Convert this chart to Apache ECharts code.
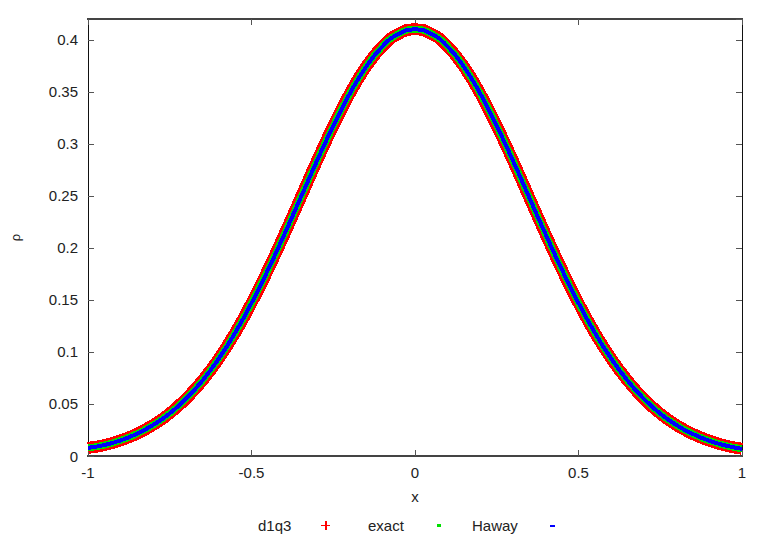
<!DOCTYPE html>
<html>
<head>
<meta charset="utf-8">
<script src="https://cdn.jsdelivr.net/npm/echarts@6/dist/echarts.min.js"></script>
<style>
  html, body { margin: 0; padding: 0; background: #fff; }
  #chart { width: 771px; height: 540px; }
  /* gnuplot png output is not antialiased: keep the curve colours pure */
  #chart path { shape-rendering: crispEdges; }
</style>
</head>
<body>
<div id="chart"></div>
<script>
// x positions (step 0.05 from -1 to 1)
const xs = [
  -1, -0.95, -0.9, -0.85, -0.8, -0.75, -0.7, -0.65, -0.6, -0.55,
  -0.5, -0.45, -0.4, -0.35, -0.3, -0.25, -0.2, -0.15, -0.1, -0.05,
  0, 0.05, 0.1, 0.15, 0.2, 0.25, 0.3, 0.35, 0.4, 0.45,
  0.5, 0.55, 0.6, 0.65, 0.7, 0.75, 0.8, 0.85, 0.9, 0.95, 1
];
// density (the three curves lie on top of each other)
const rhoD1q3 = [
  0.0078, 0.0105, 0.0150, 0.0214, 0.0300, 0.0410, 0.0551, 0.0725, 0.0936, 0.1184,
  0.1470, 0.1786, 0.2127, 0.2480, 0.2835, 0.3172, 0.3480, 0.3739, 0.3935, 0.4058,
  0.4100, 0.4058, 0.3935, 0.3739, 0.3480, 0.3172, 0.2835, 0.2480, 0.2127, 0.1786,
  0.1470, 0.1184, 0.0936, 0.0725, 0.0549, 0.0407, 0.0296, 0.0211, 0.0147, 0.0100, 0.0069
];
const rhoExact = rhoD1q3.slice();
const rhoHaway = rhoD1q3.slice();

const yTicks = [0, 0.05, 0.1, 0.15, 0.2, 0.25, 0.3, 0.35, 0.4];

const pair = (ys) => xs.map((x, i) => [x, ys[i]]);

const chart = echarts.init(document.getElementById("chart"), null, { renderer: "svg" });

const labelFont = { fontFamily: "Liberation Sans, Arial, sans-serif", fontSize: 15, color: "#222" };

// one small legend per series so the key looks like gnuplot's: text, then symbol
function key(name, left, gap, icon, w, h) {
  return {
    data: [{ name: name, icon: icon }],
    left: left,
    top: 518,
    padding: 0,
    align: "right",
    itemWidth: w,
    itemHeight: h,
    selectedMode: false,
    textStyle: Object.assign({}, labelFont, { padding: [0, gap, 0, 0] }),
  };
}

const option = {
  animation: false,
  backgroundColor: "#fff",
  grid: { left: 88, right: 29, top: 19, bottom: 84 },
  legend: [
    key("d1q3", 258, 25, "path://M4,0H6V4H10V6H6V10H4V6H0V4H4Z", 9, 9),
    key("exact", 368, 28, "circle", 4, 4),
    key("Haway", 472, 27, "rect", 5, 2),
  ],
  xAxis: [
    {
      type: "value",
      min: -1,
      max: 1,
      interval: 0.5,
      position: "bottom",
      name: "x",
      nameLocation: "middle",
      nameGap: 33,
      nameTextStyle: labelFont,
      axisLine: { show: true, onZero: false, lineStyle: { color: "#444", width: 2 } },
      axisTick: { inside: true, length: 6, lineStyle: { color: "#555" } },
      axisLabel: Object.assign({ margin: 9 }, labelFont),
      splitLine: { show: false },
    },
    {
      type: "value",
      min: -1,
      max: 1,
      interval: 0.5,
      position: "top",
      axisLine: { show: true, onZero: false, lineStyle: { color: "#444", width: 2 } },
      axisTick: { inside: true, length: 6, lineStyle: { color: "#555" } },
      axisLabel: { show: false },
      splitLine: { show: false },
    },
  ],
  yAxis: [
    {
      type: "value",
      min: 0,
      max: 0.42,
      interval: 0.05,
      position: "left",
      name: "ρ",
      nameLocation: "middle",
      nameGap: 66,
      nameTextStyle: Object.assign({}, labelFont, { fontSize: 13 }),
      axisLine: { show: true, onZero: false, lineStyle: { color: "#111", width: 1 } },
      axisTick: { inside: true, length: 6, lineStyle: { color: "#555" } },
      axisLabel: Object.assign({
        margin: 10,
        showMaxLabel: false,
        formatter: (v) => (yTicks.some((t) => Math.abs(t - v) < 1e-9) ? String(+v.toFixed(2)) : ""),
      }, labelFont),
      splitLine: { show: false },
    },
    {
      type: "value",
      min: 0,
      max: 0.42,
      interval: 0.05,
      position: "right",
      axisLine: { show: true, onZero: false, lineStyle: { color: "#111", width: 1 } },
      axisTick: { inside: true, length: 6, lineStyle: { color: "#555" } },
      axisLabel: { show: false },
      splitLine: { show: false },
    },
  ],
  series: [
    {
      name: "d1q3",
      type: "line",
      color: "#ff0000",
      data: pair(rhoD1q3),
      smooth: true,
      showSymbol: false,
      lineStyle: { color: "#ff0000", width: 12 },
      z: 1,
    },
    {
      name: "exact",
      type: "line",
      color: "#00e000",
      data: pair(rhoExact),
      smooth: true,
      showSymbol: false,
      lineStyle: { color: "#00e000", width: 7 },
      z: 2,
    },
    {
      name: "Haway",
      type: "line",
      color: "#0000ff",
      data: pair(rhoHaway),
      smooth: true,
      showSymbol: false,
      lineStyle: { color: "#0000ff", width: 4 },
      z: 3,
    },
  ],
};

chart.setOption(option);
</script>
</body>
</html>
